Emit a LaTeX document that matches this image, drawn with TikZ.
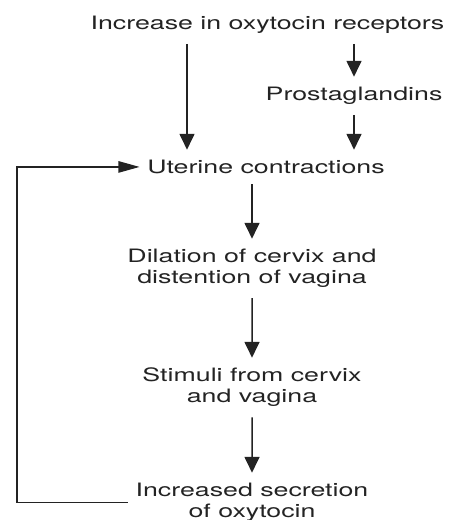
\documentclass[tikz,border=0pt]{standalone}
\usepackage{fontspec}
\setmainfont{TeX Gyre Heros}
\usepackage{tikz}
\usetikzlibrary{arrows.meta, positioning}
\definecolor{mydark}{RGB}{35,35,35}
\tikzset{
  lbl/.style={align=center, font=\fontsize{10.5}{12}\selectfont, text=mydark,
    inner xsep=0.1cm, inner ysep=0.2cm, xscale=1.45, anchor=north},
  arrow/.style={-{Triangle[width=8.5pt, length=9pt]}, line width=0.85pt, color=mydark},
  fbarrow/.style={-{Triangle[width=6.5pt, length=12pt]}, line width=0.7pt, color=mydark}
}

\begin{document}
\begin{tikzpicture}
  \useasboundingbox (0,0) rectangle (9.06,-10.4);

  \node[lbl] (recep) at (5.35,-0.114) {Increase in oxytocin receptors};
  \node[lbl] (prost) at (7.08,-1.534) {Prostaglandins};
  \node[lbl] (uter) at (5.32,-2.994) {Uterine contractions};
  \node[lbl] (dilat) at (5.04,-4.774) {Dilation of cervix and\\distention of vagina};
  \node[lbl] (stim) at (5.04,-7.154) {Stimuli from cervix\\and vagina};
  \node[lbl] (secr) at (5.04,-9.454) {Increased secretion\\of oxytocin};

  \coordinate (lcol) at (3.74,0);
  \coordinate (fback) at (0.34,-6);

  % Path lines
  \draw[arrow] (recep.south -| lcol) -- (uter.north -| lcol);
  \draw[arrow] (recep.south -| prost.north) -- (prost.north);
  \draw[arrow] (prost.south) -- (uter.north -| prost.south);
  \draw[arrow] (uter.south -| dilat.north) -- (dilat.north);
  \draw[arrow] (dilat) -- (stim);
  \draw[arrow] (stim) -- (secr);

  % Feedback loop
  \draw[fbarrow] (secr.west) -| (fback) |- (uter.west);
\end{tikzpicture}
\end{document}
